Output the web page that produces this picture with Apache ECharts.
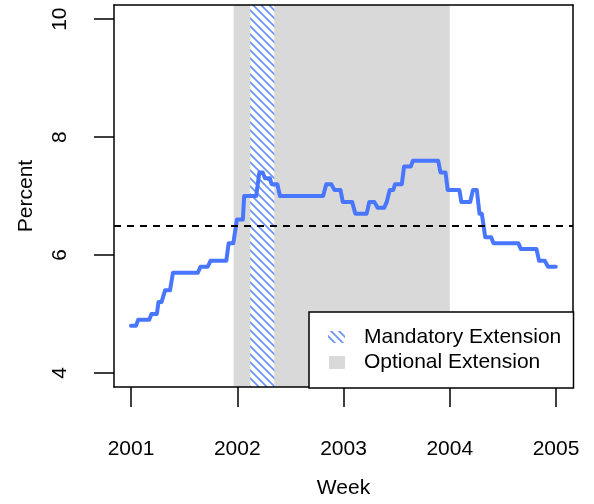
<!DOCTYPE html>
<html>
<head>
<meta charset="utf-8">
<script src="https://cdn.jsdelivr.net/npm/echarts@6/dist/echarts.min.js"></script>
<style>html,body{margin:0;padding:0;background:#fff;}#c{width:594px;height:504px;}</style>
</head>
<body>
<div id="c"></div>
<script>
// Plateaus of the weekly series (start year, end year, percent)
const levelStart = [2001.000,2001.068,2001.193,2001.259,2001.321,2001.395,2001.654,2001.748,2001.919,2001.997,2002.065,2002.208,2002.262,2002.324,2002.402,2002.838,2002.916,2002.993,2003.112,2003.243,2003.321,2003.407,2003.435,2003.486,2003.570,2003.654,2003.913,2003.981,2004.109,2004.218,2004.280,2004.334,2004.411,2004.670,2004.841,2004.925];
const levelEnd   = [2001.047,2001.171,2001.243,2001.287,2001.367,2001.629,2001.722,2001.897,2001.963,2002.053,2002.178,2002.240,2002.308,2002.377,2002.808,2002.885,2002.972,2003.081,2003.218,2003.290,2003.383,2003.416,2003.467,2003.549,2003.633,2003.891,2003.960,2004.091,2004.193,2004.255,2004.302,2004.390,2004.645,2004.816,2004.894,2004.998];
const levelValue = [4.8,4.9,5.0,5.2,5.4,5.7,5.8,5.9,6.2,6.6,7.0,7.4,7.3,7.2,7.0,7.2,7.1,6.9,6.7,6.9,6.8,6.9,7.1,7.2,7.5,7.6,7.4,7.1,6.9,7.1,6.7,6.3,6.2,6.1,5.9,5.8];
const xTicks = [2001,2002,2003,2004,2005];
const yTicks = [4,6,8,10];
const referenceLevel = 6.5;
const optionalPeriod = [2001.966, 2004.0];
const mandatoryPeriod = [2002.121, 2002.349];
const legendLabels = ['Mandatory Extension','Optional Extension'];

const lineColor = '#4876FF';
const grayColor = '#D9D9D9';
const font = 'Liberation Sans, Arial, Helvetica, sans-serif';

// hatch pattern
function makeHatch(size, color, bg){
  const cv = document.createElement('canvas');
  cv.width = size; cv.height = size;
  const ctx = cv.getContext('2d');
  if (bg){ ctx.fillStyle = bg; ctx.fillRect(0,0,size,size); }
  ctx.strokeStyle = color; ctx.lineWidth = 1.7;
  ctx.beginPath();
  ctx.moveTo(-1,-1); ctx.lineTo(size+1,size+1);
  ctx.moveTo(-1,size-1); ctx.lineTo(1,size+1);
  ctx.moveTo(size-1,-1); ctx.lineTo(size+1,1);
  ctx.stroke();
  return {image: cv, repeat: 'repeat'};
}
const hatch = makeHatch(8, '#6A94F2', '#ffffff');

const lineData = [];
for (let i = 0; i < levelValue.length; i++){
  lineData.push([levelStart[i], levelValue[i]]);
  lineData.push([levelEnd[i], levelValue[i]]);
}

const chart = echarts.init(document.getElementById('c'), null, {renderer:'canvas'});
const xMin = 2000.84, xMax = 2005.16, yMin = 3.76, yMax = 10.24;
const axisLineStyle = {color:'#000', width:1.5};
chart.setOption({
  animation: false,
  backgroundColor: '#fff',
  textStyle: {fontFamily: font},
  grid: {left:114, right:21, top:5, bottom:116, show:false},
  xAxis: [{
    type:'value', min:xMin, max:xMax, z:10,
    axisLine:{show:true, onZero:false, lineStyle:axisLineStyle},
    axisTick:{show:true, inside:false, length:20, customValues:xTicks, lineStyle:{color:'#000', width:1.5}},
    axisLabel:{show:true, customValues:xTicks, margin:52, fontSize:21, color:'#000', fontFamily:font, formatter:v=>String(Math.round(v))},
    splitLine:{show:false},
    name:'Week', nameLocation:'middle', nameGap:91,
    nameTextStyle:{fontSize:21, color:'#000', fontFamily:font}
  },{
    type:'value', min:xMin, max:xMax, position:'top', z:10,
    axisLine:{show:true, onZero:false, lineStyle:axisLineStyle},
    axisTick:{show:false}, axisLabel:{show:false}, splitLine:{show:false}
  }],
  yAxis: [{
    type:'value', min:yMin, max:yMax, z:10,
    axisLine:{show:true, onZero:false, lineStyle:axisLineStyle},
    axisTick:{show:true, inside:false, length:20, customValues:yTicks, lineStyle:{color:'#000', width:1.5}},
    axisLabel:{show:true, customValues:yTicks, margin:43, rotate:90, fontSize:21, color:'#000', fontFamily:font},
    splitLine:{show:false},
    name:'Percent', nameLocation:'middle', nameGap:77,
    nameTextStyle:{fontSize:21, color:'#000', fontFamily:font}
  },{
    type:'value', min:yMin, max:yMax, position:'right', z:10,
    axisLine:{show:true, onZero:false, lineStyle:axisLineStyle},
    axisTick:{show:false}, axisLabel:{show:false}, splitLine:{show:false}
  }],
  series: [
    {
      type:'line', data:[], z:1, silent:true,
      markArea:{silent:true, data:[
        [{xAxis:optionalPeriod[0], itemStyle:{color:grayColor}}, {xAxis:optionalPeriod[1]}],
        [{xAxis:mandatoryPeriod[0], itemStyle:{color:hatch}}, {xAxis:mandatoryPeriod[1]}]
      ]}
    },
    {
      type:'line', data:lineData, z:3, showSymbol:false, symbol:'none',
      lineStyle:{color:lineColor, width:4, cap:'round', join:'round'},
      markLine:{silent:true, symbol:'none', label:{show:false},
        lineStyle:{color:'#000', width:2, type:[7,6]},
        data:[{yAxis:referenceLevel}]}
    }
  ],
  graphic: [
    {type:'rect', z:20, shape:{x:309, y:312, width:264.5, height:76}, style:{fill:'#fff', stroke:'#000', lineWidth:1.5}},
    {type:'rect', z:21, shape:{x:328, y:331, width:17, height:12}, style:{fill:hatch}},
    {type:'rect', z:21, shape:{x:329, y:356, width:16, height:13}, style:{fill:grayColor}},
    {type:'text', z:21, x:364, y:337.7, style:{text:legendLabels[0], fill:'#000', font:'21px ' + font, textVerticalAlign:'middle'}},
    {type:'text', z:21, x:364, y:362.7, style:{text:legendLabels[1], fill:'#000', font:'21px ' + font, textVerticalAlign:'middle'}}
  ]
});
</script>
</body>
</html>
